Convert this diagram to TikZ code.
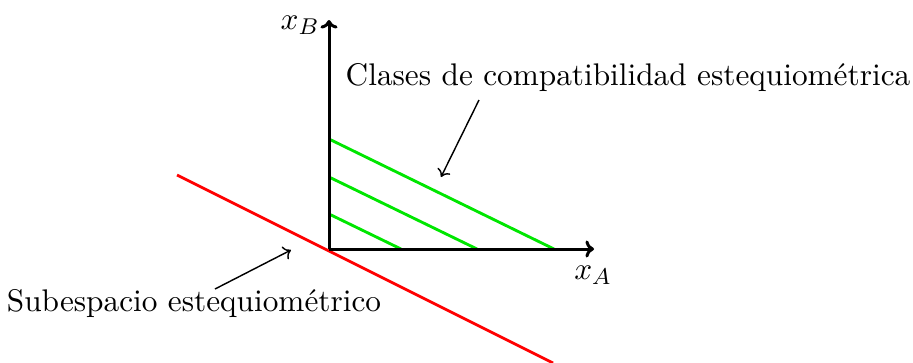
\documentclass[tikz,border=0pt]{standalone}
\usetikzlibrary{arrows.meta}
\begin{document}
\begin{tikzpicture}[x=0.35pt,y=-0.35pt,
  axis/.style={line width=1.05pt,-{To[length=3pt,width=6pt]}},
  cls/.style={line width=1pt,color={rgb,255:red,0;green,230;blue,0}},
  sub/.style={line width=1pt,red},
  pointer/.style={line width=0.5pt,-{To[length=2.5pt,width=5pt]}},
  lbl/.style={inner sep=0pt,font=\fontsize{10.95pt}{13pt}\selectfont}]
\useasboundingbox (0,0) rectangle (913,362);
\coordinate (O) at (329,249);
\coordinate (XA) at (594,249);
\coordinate (XB) at (329,20);
% red subspace
\coordinate (R1) at (177,175);
\coordinate (R2) at (553,363);
\draw[sub] (R1) -- (R2);
% green classes
\coordinate (g1a) at (329,214); \coordinate (g1b) at (401,249);
\coordinate (g2a) at (329,177); \coordinate (g2b) at (477,249);
\coordinate (g3a) at (329,139); \coordinate (g3b) at (554,249);
\draw[cls] (g1a) -- (g1b);
\draw[cls] (g2a) -- (g2b);
\draw[cls] (g3a) -- (g3b);
% axes
\draw[axis] (O) -- (XA);
\draw[axis] (O) -- (XB);
\node[lbl] (lA) at (593,275) {$x_A$};
\node[lbl] (lB) at (300,25) {$x_B$};
% labels
\node[lbl] (clases) at (628,78) {Clases de compatibilidad estequiométrica};
\node[lbl] (subesp) at (194,303) {Subespacio estequiométrico};
\coordinate (c1) at (479,100);
\coordinate (c2) at (441,177);
\draw[pointer] (c1) -- (c2);
\coordinate (s1) at (215,289);
\coordinate (s2) at (291,250);
\draw[pointer] (s1) -- (s2);
\end{tikzpicture}
\end{document}
